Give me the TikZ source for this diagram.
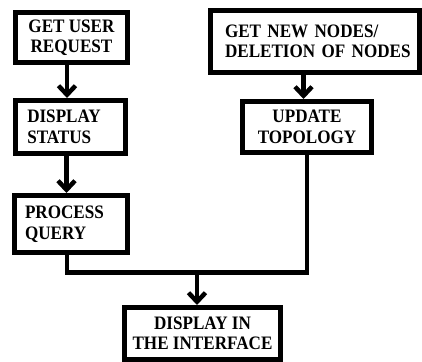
\documentclass[tikz,border=0pt]{standalone}
\usepackage{fontspec}
\setmainfont{Liberation Serif}[FakeStretch=0.9]
\usetikzlibrary{arrows.meta}
\begin{document}
\begin{tikzpicture}[x=1pt,y=1pt,
  box/.style={draw=black, line width=5pt, inner ysep=0pt, font=\fontsize{19}{20.5}\selectfont\bfseries},
  conn/.style={line width=4.5pt, black},
  arr/.style={conn, -{Straight Barb[length=9pt,width=17pt]}}]
\useasboundingbox (0,0) rectangle (422,-361);
\node[box, minimum width=112pt, minimum height=50pt, inner xsep=0pt, align=center] (b1) at (71.5,-37.5) {GET USER\\REQUEST};
\node[box, minimum width=110.5pt, minimum height=53pt, inner xsep=12pt, text width=86pt, align=left] (b2) at (70.25,-127) {DISPLAY\\STATUS};
\node[box, minimum width=113pt, minimum height=57pt, inner xsep=10.5pt, text width=92pt, align=left] (b3) at (71,-224) {PROCESS\\QUERY};
\node[box, minimum width=209pt, minimum height=62pt, inner xsep=14.5pt, text width=180pt, align=left] (tr) at (315,-41.5) {GET~NEW~NODES/\\DELETION~OF~NODES};
\node[box, minimum width=129pt, minimum height=51pt, inner xsep=0pt, align=center] (ut) at (307,-127) {UPDATE\\TOPOLOGY};
\node[box, minimum width=156pt, minimum height=51.5pt, inner xsep=0pt, align=center] (b4) at (202.5,-333.25) {DISPLAY IN\\THE INTERFACE};
\coordinate (xa) at (67,0);
\coordinate (xb) at (66.5,0);
\coordinate (xc) at (303.5,0);
\coordinate (xd) at (307,0);
\coordinate (j) at (197,-272.5);
\draw[arr] (b1.south -| xa) -- (b2.north -| xa);
\draw[arr] (b2.south -| xb) -- (b3.north -| xb);
\draw[arr] (tr.south -| xc) -- (ut.north -| xc);
\draw[conn] (b3.south -| xa) |- (j) -| (ut.south -| xd);
\draw[arr] (j) -- (b4.north -| j);
\end{tikzpicture}
\end{document}
